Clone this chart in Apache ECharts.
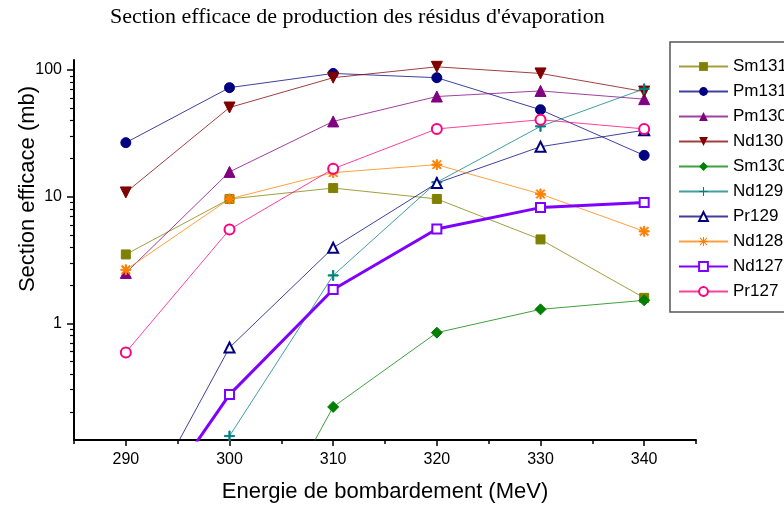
<!DOCTYPE html>
<html>
<head>
<meta charset="utf-8">
<script src="https://cdn.jsdelivr.net/npm/echarts@6/dist/echarts.min.js"></script>
<style>html,body{margin:0;padding:0;background:#fff;}#c{width:784px;height:508px;}</style>
</head>
<body>
<div id="c"></div>
<script>
var energies = [290, 300, 310, 320, 330, 340];
var Sm131 = [3.5, 9.6, 11.7, 9.6, 4.6, 1.59];
var Pm131 = [26.7, 72.6, 94, 87, 48.6, 21.2];
var Pm130 = [2.5, 15.7, 39.3, 61.8, 68.4, 58.9];
var Nd130 = [10.8, 50.6, 87, 106, 94, 67.6];
var Sm130 = [null, 0.007, 0.219, 0.845, 1.29, 1.52];
var Nd129 = [null, 0.129, 2.39, 13, 35.9, 71];
var Pr129 = [0.02, 0.644, 3.95, 12.8, 24.8, 33.5];
var Nd128 = [2.65, 9.6, 15.5, 17.9, 10.5, 5.33];
var Nd127 = [0.018, 0.274, 1.85, 5.56, 8.2, 9.0];
var Pr127 = [0.59, 5.5, 16.6, 34.3, 40.5, 34.3];
var xLabels = [290, 300, 310, 320, 330, 340];
var xMinorTicks = [285, 295, 305, 315, 325, 335, 345];
var yLabels = [1, 10, 100];
var yMinorTicks = [0.2,0.3,0.4,0.5,0.6,0.7,0.8,0.9,2,3,4,5,6,7,8,9,20,30,40,50,60,70,80,90];

var PLUS = 'path://M4.4,0H5.6V4.4H10V5.6H5.6V10H4.4V5.6H0V4.4H4.4Z';
var STAR = 'path://M0,4.4H10V5.6H0Z M4.4,0H5.6V10H4.4Z M0.58,1.42L1.42,0.58L9.42,8.58L8.58,9.42Z M8.58,0.58L9.42,1.42L1.42,9.42L0.58,8.58Z';

function pairs(arr){ return energies.map(function(e,i){ return [e, arr[i]]; }); }

var defs = [
  {name:'Sm131', data:Sm131, color:'#808000', symbol:'rect', size:9},
  {name:'Pm131', data:Pm131, color:'#000080', symbol:'circle', size:10},
  {name:'Pm130', data:Pm130, color:'#800080', symbol:'triangle', size:11},
  {name:'Nd130', data:Nd130, color:'#800000', symbol:'triangle', size:11, rotate:180},
  {name:'Sm130', data:Sm130, color:'#008000', symbol:'diamond', size:11},
  {name:'Nd129', data:Nd129, color:'#008080', symbol:PLUS, size:10},
  {name:'Pr129', data:Pr129, color:'#000080', symbol:'emptyTriangle', size:10, border:1.3},
  {name:'Nd128', data:Nd128, color:'#FF8000', symbol:STAR, size:10},
  {name:'Nd127', data:Nd127, color:'#8000FF', symbol:'emptyRect', size:9, border:1.3, width:3},
  {name:'Pr127', data:Pr127, color:'#FF0080', symbol:'emptyCircle', size:10, border:1.3}
];

var series = defs.map(function(d){
  var s = {
    name: d.name,
    type: 'line',
    xAxisIndex: 0,
    yAxisIndex: 0,
    data: pairs(d.data),
    symbol: d.symbol,
    symbolSize: d.size,
    symbolRotate: d.rotate || 0,
    showAllSymbol: true,
    clip: true,
    animation: false,
    lineStyle: {color: d.color, width: d.width || 1, opacity: d.width ? 1 : 0.75},
    itemStyle: {color: d.color, borderColor: d.color},
    emphasis: {disabled: true}
  };
  if (d.border) { s.itemStyle.borderWidth = d.border; }
  return s;
});

var FONT = 'Liberation Sans, Arial, sans-serif';

var chart = echarts.init(document.getElementById('c'), null, {renderer:'canvas'});
chart.setOption({
  animation: false,
  backgroundColor: '#fff',
  title: {
    text: "Section efficace de production des résidus d'évaporation",
    left: 110, top: 6, padding: 0,
    textStyle: {fontFamily:'Liberation Serif, Times New Roman, serif', fontSize:22, fontWeight:'normal', color:'#000'}
  },
  legend: {
    orient: 'vertical',
    left: 670, top: 42,
    padding: [16, 60, 12, 8],
    borderColor: '#555', borderWidth: 1.5,
    itemWidth: 49, itemHeight: 11, itemGap: 8,
    textStyle: {fontFamily:FONT, fontSize:17, color:'#000', lineHeight:17},
    data: defs.map(function(d){ return d.name; })
  },
  grid: {left: 74, right: 88, top: 60, bottom: 66, containLabel: false},
  xAxis: [
    {
      type: 'value', min: 285, max: 345,
      position: 'bottom',
      name: 'Energie de bombardement (MeV)',
      nameLocation: 'middle', nameGap: 41,
      nameTextStyle: {fontFamily:FONT, fontSize:22, color:'#000'},
      axisLine: {show:true, onZero:false, lineStyle:{color:'#000', width:2}},
      axisTick: {show:true, inside:false, length:6, lineStyle:{color:'#000', width:1.5}, customValues: xLabels},
      axisLabel: {show:true, margin:12, customValues: xLabels, fontFamily:FONT, fontSize:16, color:'#000'},
      splitLine: {show:false}
    },
    {
      type: 'value', min: 285, max: 345,
      position: 'bottom',
      axisLine: {show:false, onZero:false},
      axisTick: {show:true, inside:false, length:4, lineStyle:{color:'#000', width:1.5}, customValues: xMinorTicks},
      axisLabel: {show:false},
      splitLine: {show:false}
    }
  ],
  yAxis: [
    {
      type: 'log', min: 0.12, max: 120, logBase: 10,
      position: 'left',
      axisLine: {show:true, onZero:false, lineStyle:{color:'#000', width:2}},
      axisTick: {show:true, inside:false, length:7, lineStyle:{color:'#000', width:1.5}, customValues: yLabels},
      axisLabel: {show:true, margin:12, customValues: yLabels, fontFamily:FONT, fontSize:16, color:'#000'},
      splitLine: {show:false}
    },
    {
      type: 'log', min: 0.12, max: 120, logBase: 10,
      position: 'left',
      axisLine: {show:false, onZero:false},
      axisTick: {show:true, inside:false, length:4, lineStyle:{color:'#000', width:1.2}, customValues: yMinorTicks},
      axisLabel: {show:false},
      splitLine: {show:false}
    }
  ],
  graphic: [{
    type: 'text',
    x: 28, y: 189,
    rotation: Math.PI / 2,
    style: {
      text: 'Section efficace (mb)',
      fontFamily: FONT,
      fontSize: 22,
      fill: '#000',
      align: 'center',
      verticalAlign: 'middle'
    }
  }],
  series: series
});
</script>
</body>
</html>
